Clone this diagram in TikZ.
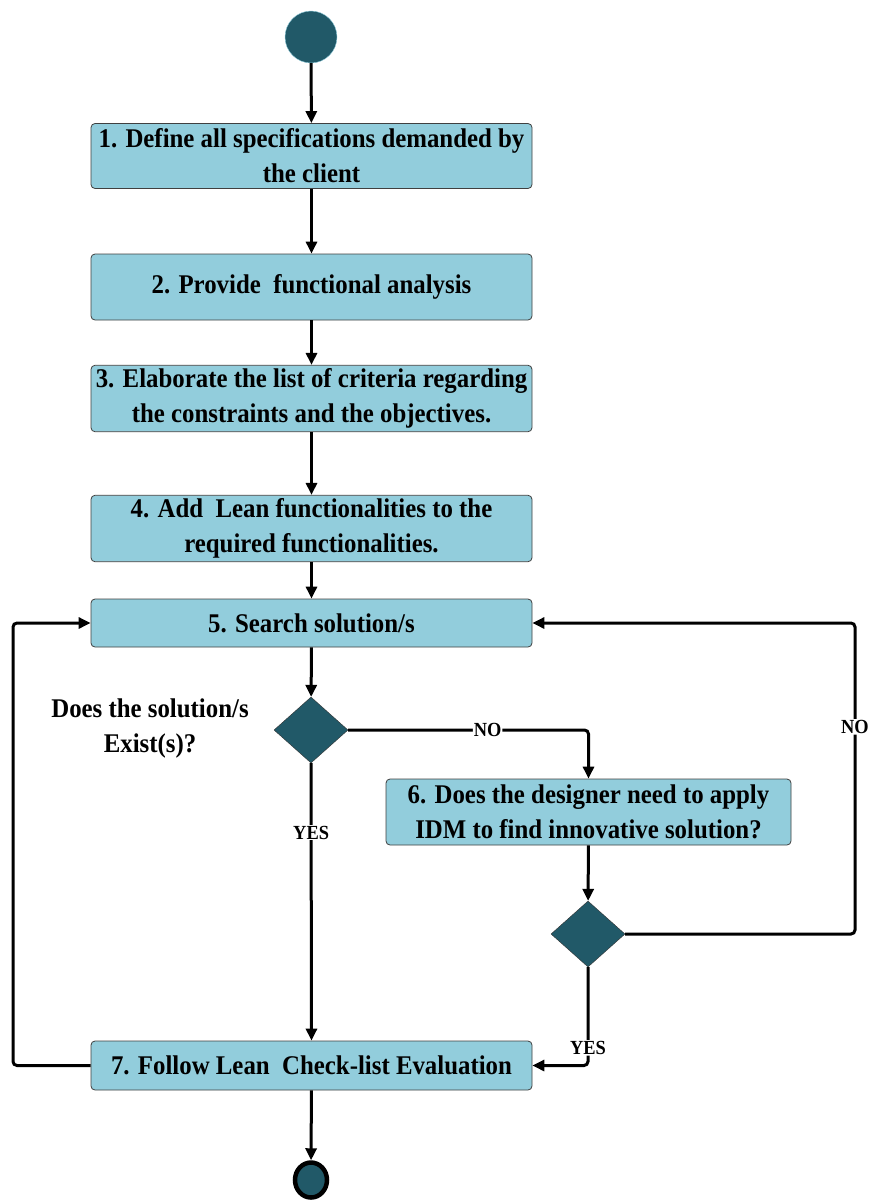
\documentclass[tikz,border=0pt]{standalone}
\usepackage{fontspec}
\newfontfamily\chartfont{Liberation Serif}[FakeStretch=0.92]
\usetikzlibrary{arrows.meta,shapes.geometric}
\definecolor{boxblue}{HTML}{92CDDC}
\definecolor{darkteal}{HTML}{215968}
\def\boxfont{\chartfont\bfseries\fontsize{27}{35}\selectfont}
\def\tagfont{\chartfont\bfseries\fontsize{20}{22}\selectfont}

\begin{document}
\begin{tikzpicture}[x=1pt,y=-1pt,
	box/.style={draw=black!75,fill=boxblue,rounded corners=4pt,minimum width=441pt,align=center,font=\boxfont,line width=0.8pt},
	decision/.style={diamond,draw=black!80,fill=darkteal,minimum width=74pt,minimum height=66pt,inner sep=0pt},
	flow/.style={line width=3pt,-{Triangle[length=12pt,width=11pt]}},
	tag/.style={fill=white,font=\tagfont,inner sep=1pt}]
			%%%%% START %%%%%
			
			\useasboundingbox (0,0) rectangle (871,1203);
			
			\node[circle,fill=darkteal,draw=boxblue,minimum size=52pt,inner sep=0pt] (start) at (311,37) {};
			
			\node[box,minimum height=65pt] (b1) at (311.5,156) {1. Define all specifications demanded by\\the client};
			\node[box,minimum height=66pt] (b2) at (311.5,287) {2. Provide\ \ functional analysis};
			\node[box,minimum height=65pt] (b3) at (311.5,398.5) {3. Elaborate the list of criteria regarding\\the constraints and the objectives.};
			\node[box,minimum height=65pt] (b4) at (311.5,528.5) {4. Add\ \ Lean functionalities to the\\required functionalities.};
			\node[box,minimum height=48pt] (b5) at (311.5,623) {5. Search solution/s};
			
			\node[decision] (d1) at (311,730) {};
			\node[align=center,font=\boxfont] (q1) at (150,728) {Does the solution/s\\Exist(s)?};
			
			\node[box,minimum width=405pt,minimum height=66pt] (b6) at (588.5,812) {6. Does the designer need to apply\\IDM to find innovative solution?};
			\node[decision] (d2) at (588,934) {};
			
			\node[box,minimum height=49pt] (b7) at (311.5,1065.5) {7. Follow Lean\ \ Check-list Evaluation};
			
			\node[ellipse,fill=darkteal,draw=black,line width=4.5pt,minimum width=32pt,minimum height=35pt,inner sep=0pt] (stop) at (311,1180) {};
			
			\coordinate (rturn) at (855,934);
			\coordinate (lturn) at (13,1065.5);
			
			\draw[flow] (start) -- (b1);
			\draw[flow] (b1) -- (b2);
			\draw[flow] (b2) -- (b3);
			\draw[flow] (b3) -- (b4);
			\draw[flow] (b4) -- (b5);
			\draw[flow] (b5) -- (d1);
			
			\draw[flow,rounded corners=4pt] (d1.east) -| node[tag,pos=0.29] {NO} (b6.north);
			\draw[flow] (d1.south) -- node[tag,pos=0.25] {YES} (b7.north);
			\draw[flow] (b6) -- (d2);
			\draw[flow,rounded corners=4pt] (d2.east) -- (rturn) |- node[tag,pos=0.333] {NO} (b5.east);
			\draw[flow,rounded corners=4pt] (d2.south) |- node[tag,pos=0.41] {YES} (b7.east);
			\draw[flow,rounded corners=4pt] (b7.west) -- (lturn) |- (b5.west);
			\draw[flow] (b7) -- (stop);
			
			%%%%% END %%%%%
		\end{tikzpicture}
\end{document}
